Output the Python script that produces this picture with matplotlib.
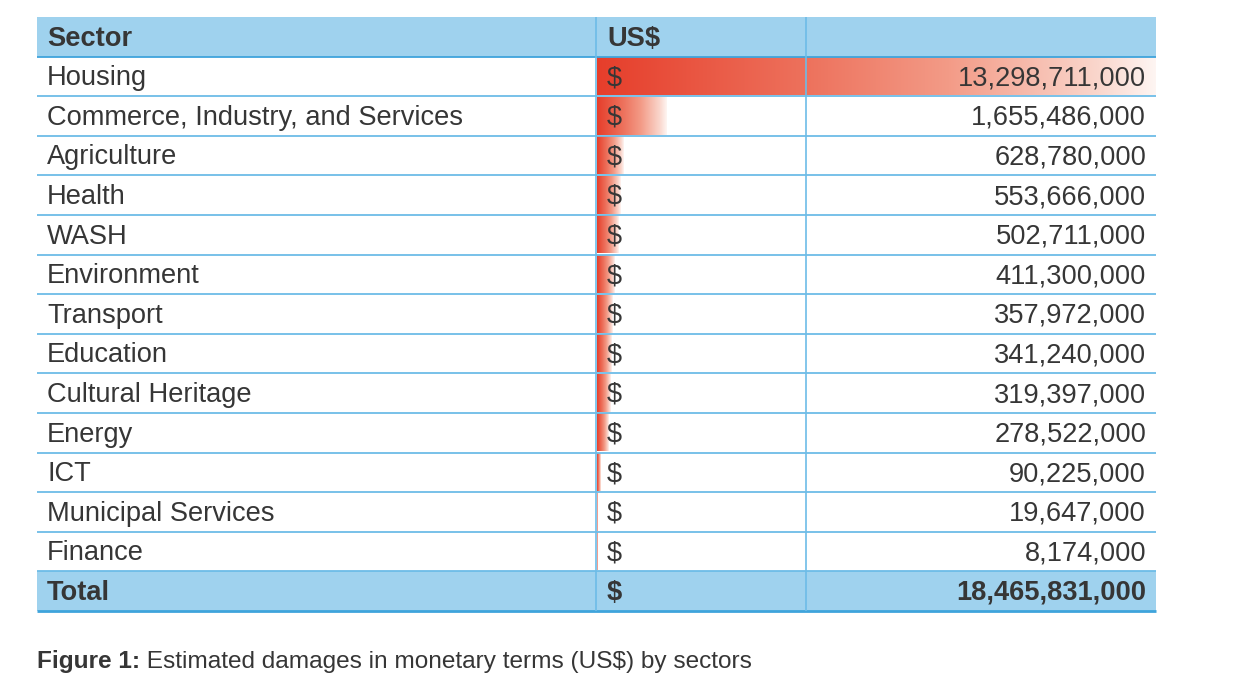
import matplotlib
matplotlib.use("Agg")
import matplotlib.pyplot as plt
import numpy as np
from matplotlib.colors import LinearSegmentedColormap

# ---- data ----
sectors = ["Housing", "Commerce, Industry, and Services", "Agriculture", "Health",
           "WASH", "Environment", "Transport", "Education", "Cultural Heritage",
           "Energy", "ICT", "Municipal Services", "Finance"]
damages_usd = [13298711000, 1655486000, 628780000, 553666000, 502711000, 411300000,
               357972000, 341240000, 319397000, 278522000, 90225000, 19647000, 8174000]
total_label = "Total"
total_usd = 18465831000
header_labels = ["Sector", "US$", ""]
caption_bold = "Figure 1:"
caption_text = " Estimated damages in monetary terms (US$) by sectors"

# ---- layout (pixels) ----
W, H = 1242, 697
left, right = 37, 1156
col1, col2 = 596, 806
top = 17
n_rows = len(sectors) + 2
row_h = (611 - top) / n_rows
bottom = top + row_h * n_rows

txt_color = "#363636"
header_fill = "#9FD2EE"
line_c = "#6DBCE7"
dark_line = "#3FA4DC"
FONT = "Liberation Sans"
fs = 19.6

fig = plt.figure(figsize=(W / 100, H / 100), dpi=100)
fig.patch.set_facecolor("white")

# background axes
bg = fig.add_axes([0, 0, 1, 1], zorder=0)
bg.set_xlim(0, W); bg.set_ylim(H, 0); bg.axis("off")
bg.add_patch(plt.Rectangle((left, top), right - left, row_h, color=header_fill, lw=0))
bg.add_patch(plt.Rectangle((left, top + row_h * (n_rows - 1)), right - left, row_h,
                           color=header_fill, lw=0))

# bar axes: data bars in value units
bar_x0 = col1 + 1
bax = fig.add_axes([bar_x0 / W, 1 - bottom / H, (right - bar_x0) / W, (bottom - top) / H],
                   zorder=1)
bax.patch.set_alpha(0)
bax.axis("off")
vmax = max(damages_usd)
cmap = LinearSegmentedColormap.from_list(
    "bar", [(0.0, (230/255, 62/255, 43/255)), (0.37, (237/255, 113/255, 92/255)),
            (0.63, (243/255, 155/255, 135/255)), (0.9, (250/255, 215/255, 205/255)),
            (1.0, (254/255, 245/255, 242/255))])
grad = np.linspace(0, 1, 256).reshape(1, -1)
pad = 0.03
for i, v in enumerate(damages_usd):
    r = i + 1
    bax.imshow(grad, cmap=cmap, aspect="auto", interpolation="bilinear",
               extent=[0, v, r + 1 - pad, r + pad], zorder=1)
bax.set_xlim(0, vmax)
bax.set_ylim(n_rows, 0)

# foreground axes: grid and text
fg = fig.add_axes([0, 0, 1, 1], zorder=2)
fg.patch.set_alpha(0)
fg.set_xlim(0, W); fg.set_ylim(H, 0); fg.axis("off")

for k in range(1, n_rows):
    y = top + row_h * k
    c = dark_line if k == 1 else line_c
    fg.plot([left, right], [y, y], color=c, lw=1.3, solid_capstyle="butt")
fg.plot([left, right], [bottom, bottom], color=dark_line, lw=2.0, solid_capstyle="butt")
for x in (col1, col2):
    fg.plot([x, x], [top, bottom], color=line_c, lw=1.2, solid_capstyle="butt")

def row_base(r):
    return top + row_h * (r + 0.5) + 8.8

# header
fg.text(47, row_base(0), header_labels[0], fontsize=fs, fontweight="bold",
        family=FONT, color=txt_color, va="baseline", ha="left")
fg.text(607, row_base(0), header_labels[1], fontsize=fs, fontweight="bold",
        family=FONT, color=txt_color, va="baseline", ha="left")

for i, (s, v) in enumerate(zip(sectors, damages_usd)):
    r = i + 1
    yb = row_base(r)
    fg.text(47, yb, s, fontsize=fs, family=FONT, color=txt_color, va="baseline")
    fg.text(607, yb, "$", fontsize=fs, family=FONT, color=txt_color, va="baseline")
    fg.text(1146, yb, f"{v:,}", fontsize=fs, family=FONT, color=txt_color,
            va="baseline", ha="right")

r = n_rows - 1
fg.text(47, row_base(r), total_label, fontsize=fs, fontweight="bold", family=FONT,
        color=txt_color, va="baseline")
fg.text(607, row_base(r), "$", fontsize=fs, fontweight="bold", family=FONT,
        color=txt_color, va="baseline")
fg.text(1146, row_base(r), f"{total_usd:,}", fontsize=fs, fontweight="bold",
        family=FONT, color=txt_color, va="baseline", ha="right")

# caption
cap_fs = 17.6
t1 = fg.text(37, 668, caption_bold, fontsize=cap_fs, fontweight="bold", family=FONT,
             color=txt_color, va="baseline")
fig.canvas.draw()
bb = t1.get_window_extent()
fg.text(bb.x1, 668, caption_text, fontsize=cap_fs, family=FONT, color=txt_color,
        va="baseline")

fig.savefig("out.png", dpi=100, facecolor="white")
